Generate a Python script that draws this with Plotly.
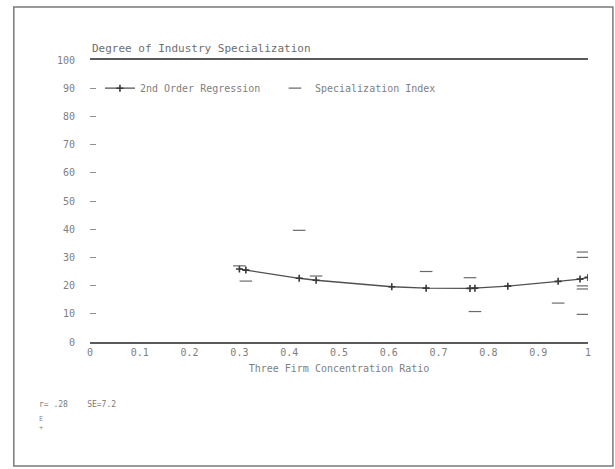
import plotly.graph_objects as go

# Specialization index observations (dash markers)
spec_x = [0.30, 0.313, 0.42, 0.454, 0.675, 0.763, 0.773, 0.94, 0.99, 0.99, 0.99, 0.99, 0.99]
spec_y = [27.0, 21.6, 39.6, 23.4, 25.0, 22.8, 10.8, 13.8, 31.9, 30.0, 19.9, 18.8, 9.8]

# Fitted 2nd order regression values
reg_x = [0.30, 0.313, 0.42, 0.454, 0.606, 0.675, 0.763, 0.773, 0.839, 0.94, 0.984, 1.0]
reg_y = [25.9, 25.5, 22.6, 21.9, 19.6, 19.1, 19.0, 19.1, 19.8, 21.5, 22.3, 22.9]

x_ticks = [0, 0.1, 0.2, 0.3, 0.4, 0.5, 0.6, 0.7, 0.8, 0.9, 1]
x_tick_labels = ["0", "0.1", "0.2", "0.3", "0.4", "0.5", "0.6", "0.7", "0.8", "0.9", "1"]
y_ticks = [0, 10, 20, 30, 40, 50, 60, 70, 80, 90, 100]

FONT = "DejaVu Sans Mono"
INK = "#5a5a5a"
TXT = "#808080"

fig = go.Figure()
fig.add_trace(go.Scatter(
    x=reg_x, y=reg_y, mode="lines+markers", name="2nd Order Regression",
    line=dict(color="#505050", width=1.3),
    marker=dict(symbol="cross-thin-open", size=5, color="#383838",
                line=dict(color="#383838", width=1.6)),
))
fig.add_trace(go.Scatter(
    x=spec_x, y=spec_y, mode="markers", name="Specialization Index",
    marker=dict(symbol="line-ew-open", size=9, color="#6a6a6a",
                line=dict(color="#6a6a6a", width=1.2)),
))

fig.update_layout(
    width=615, height=469,
    margin=dict(l=90, r=27, t=60, b=127),
    paper_bgcolor="white", plot_bgcolor="white",
    font=dict(family=FONT, size=10, color=TXT),
    showlegend=True,
    legend=dict(orientation="h", x=0.02, y=0.90, xanchor="left", yanchor="middle",
                bgcolor="rgba(0,0,0,0)", font=dict(family=FONT, size=10, color=TXT),
                itemwidth=30, entrywidth=130, traceorder="normal"),
    xaxis=dict(range=[0, 1], tickvals=x_ticks, ticktext=x_tick_labels,
               showgrid=False, zeroline=False, showline=True, mirror=True,
               linecolor=INK, linewidth=1.5, ticks="",
               tickfont=dict(family=FONT, size=10, color=TXT),
               title=dict(text="Three Firm Concentration Ratio", standoff=8,
                          font=dict(family=FONT, size=10, color=TXT))),
    yaxis=dict(range=[0, 100], tickvals=y_ticks, showgrid=False, zeroline=False,
               showline=False, ticks="inside", ticklen=6, tickwidth=1, tickcolor="#909090",
               ticklabelstandoff=14,
               tickfont=dict(family=FONT, size=10, color=TXT)),
    annotations=[
        dict(text="Degree of Industry Specialization", xref="paper", yref="paper",
             x=0.0, y=1.01, xanchor="left", yanchor="bottom", showarrow=False,
             font=dict(family=FONT, size=11, color="#6e6e6e")),
        dict(text="r= .28    SE=7.2", xref="paper", yref="paper",
             x=-0.106, y=-0.223, xanchor="left", yanchor="middle", showarrow=False,
             font=dict(family=FONT, size=8, color="#7a7a7a")),
        dict(text="E<br>+", xref="paper", yref="paper",
             x=-0.106, y=-0.25, xanchor="left", yanchor="top", showarrow=False,
             align="left", font=dict(family=FONT, size=7, color="#8a8a8a")),
    ],
    shapes=[
        dict(type="rect", xref="paper", yref="paper", x0=-0.153, x1=1.05, y0=-0.44, y1=1.188,
             line=dict(color="#7a7a7a", width=1.5)),
    ],
)

fig.write_html("out.html", config={"displayModeBar": False},
               post_script="document.body.style.margin='0';")
